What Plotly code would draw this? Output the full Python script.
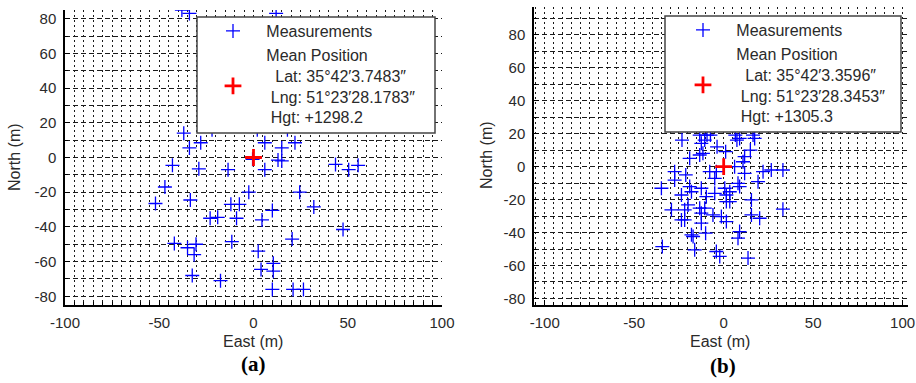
import plotly.graph_objects as go

W, H = 916, 383

# ---- data (a) ----
a_east = [-38, -34, 12, -37, -34, -28, -22, 2, 18, 6, 15, 22, 13, 15, -0.5, -43, -29, -13.5, 6,
          43.5, 50.5, 55.5, -47, -52, -33.5, -2.5, 24.5, -12, -7.5, 10, 32, -23, -19, -9, 4.5,
          47.5, -42, -35, -30.5, -31.5, -11.5, 20.5, 2.5, 10.5, 10.5, 4, -32.5, -17.5, 10, 21, 26.5]
a_north = [85, 83, 83, 14, 5.5, 8.5, 16, 16, 16, 8.5, 5.5, 8.5, -1.5, -2, -1, -4.5, -6.5, -7, -7,
           -4, -7, -4.5, -17, -26.5, -24.5, -20, -20, -27, -27, -30.5, -28.5, -35, -34.5, -35, -36,
           -41.5, -49.5, -52, -50, -56, -48.5, -47, -54, -61, -65.5, -64.5, -68, -71, -76, -76, -76]

# ---- data (b) ----
b_east = [-23.3, -13.4, -10.6, -9.3, -7.4, -12.5, -3.7, 1.1, 6.5, 7.4, 8.9, 16.4, 17.3, 14.9, 11.7,
          10.8, -19, -13.4, -11.6, 6.1, 11.7, -7.8, -4.1, -5, 22, 26.6, 33.1, -27.4, -27.4, -21.2,
          -34.8, -23.6, -19, -18, -12.5, -9.7, -5, 0.6, 1.5, 3.4, 8, 8.9, 19.2, 15.5, 1.5, 3.4,
          -29.2, -21.8, -19.9, -13.4, -10.6, -12.5, -6, -1.3, -23.6, -21.8, -12.5, 1.5, 15.5, 20.1,
          33.1, -18, -17.1, -10.1, 8.9, 8, -34.3, -16.2, -4.1, -2.2, 13.6]
b_north = [16.2, 19.2, 16.2, 19.2, 19.2, 14.2, 12.1, 9.1, 19.2, 16.2, 17.2, 19.2, 17.2, 10.1, 6.1,
           3.0, 5.1, 7.1, 8.1, 0, -4, -3, -3, -7.1, -3, -2, -2, -3, -8.1, -5,
           -13.1, -17.2, -12.1, -15.2, -13.1, -18.2, -16.2, -13.1, -17.2, -15.2, -10.1, -12.1, -9.1, -20.2, -21.2, -21.2,
           -26.2, -26.2, -23.2, -25.2, -25.2, -28.2, -29.3, -30.3, -32.3, -32.3, -34.3, -33.3, -29.3, -31.3,
           -25.8, -41.4, -42.4, -40.4, -39.4, -43.4, -48.5, -50.5, -51.5, -54.5, -55.5]

mean_a = ([0], [0])
mean_b = ([0], [0])

x_ticks = [-100, -50, 0, 50, 100]
x_ticktext = ["-100", "-50", "0", "50", "100"]
y_ticks = [-80, -60, -40, -20, 0, 20, 40, 60, 80]
y_ticktext = ["-80", "-60", "-40", "-20", "0", "20", "40", "60", "80"]

info_a = ["Lat: 35°42′3.7483″", "Lng: 51°23′28.1783″", "Hgt: +1298.2"]
info_b = ["Lat: 35°42′3.3596″", "Lng: 51°23′28.3453″", "Hgt: +1305.3"]

NB = "\u00a0"


def mean_label(info):
    return (NB * 3 + "Mean Position<br>" + NB * 5 + info[0] + "<br>" +
            NB * 4 + info[1] + "<br>" + NB * 4 + info[2])


fig = go.Figure()

blue_marker = dict(symbol="cross-thin", size=10, color="blue",
                   line=dict(color="blue", width=1.3))
red_marker = dict(symbol="cross-thin", size=12, color="red",
                  line=dict(color="red", width=2.8))

fig.add_trace(go.Scatter(x=a_east, y=a_north, mode="markers", marker=blue_marker,
                         name=NB * 3 + "Measurements", xaxis="x", yaxis="y", legend="legend"))
fig.add_trace(go.Scatter(x=mean_a[0], y=mean_a[1], mode="markers", marker=red_marker,
                         name=mean_label(info_a), xaxis="x", yaxis="y", legend="legend"))
fig.add_trace(go.Scatter(x=b_east, y=b_north, mode="markers", marker=blue_marker,
                         name=NB * 3 + "Measurements", xaxis="x2", yaxis="y2", legend="legend2"))
fig.add_trace(go.Scatter(x=mean_b[0], y=mean_b[1], mode="markers", marker=red_marker,
                         name=mean_label(info_b), xaxis="x2", yaxis="y2", legend="legend2"))

tickfont = dict(family="Liberation Sans, Arial, sans-serif", size=15, color="#2a2a2a")
gridcol = "#1a1a1a"


def xaxis_style(domain, rng, anchor):
    return dict(domain=domain, range=rng, anchor=anchor,
                tickmode="array", tickvals=x_ticks, ticktext=x_ticktext,
                showline=True, linecolor="black", linewidth=1.5, mirror=False,
                ticks="inside", ticklen=5, tickcolor="black", tickwidth=1,
                showgrid=True, gridcolor=gridcol, gridwidth=1, griddash="2px,3px",
                minor=dict(dtick=5, tick0=0, showgrid=True, gridcolor=gridcol, gridwidth=1,
                           griddash="2px,3px", ticks="inside", ticklen=3, tickcolor="black"),
                zeroline=False, tickfont=tickfont, ticklabelstandoff=3,
                automargin=False, fixedrange=True)


def yaxis_style(domain, rng, anchor):
    return dict(domain=domain, range=rng, anchor=anchor,
                tickmode="array", tickvals=y_ticks, ticktext=y_ticktext,
                showline=True, linecolor="black", linewidth=1.5, mirror=False,
                ticks="inside", ticklen=5, tickcolor="black", tickwidth=1,
                showgrid=True, gridcolor=gridcol, gridwidth=1, griddash="5px,3px",
                minor=dict(dtick=10, tick0=0, showgrid=True, gridcolor=gridcol, gridwidth=1,
                           griddash="5px,3px", ticks="inside", ticklen=3, tickcolor="black"),
                zeroline=False, tickfont=tickfont, ticklabelstandoff=4,
                automargin=False, fixedrange=True)


def px(x):
    return x / W


def py(y):
    return 1 - y / H


legend_font = dict(family="Liberation Sans, Arial, sans-serif", size=16, color="#2a2a2a")

fig.update_layout(
    width=W, height=H, autosize=False,
    margin=dict(l=0, r=0, t=0, b=0, pad=0, autoexpand=False),
    paper_bgcolor="white", plot_bgcolor="white",
    showlegend=True,
    xaxis=xaxis_style([px(65), px(442)], [-100, 100], "y"),
    yaxis=yaxis_style([py(305), py(10)], [-85, 85], "x"),
    xaxis2=xaxis_style([px(534), px(908)], [-106, 103], "y2"),
    yaxis2=yaxis_style([py(305), py(7)], [-84, 97], "x2"),
    legend=dict(x=px(213), y=py(14), xanchor="left", yanchor="top",
                bgcolor="rgba(0,0,0,0)", borderwidth=0, font=legend_font,
                tracegroupgap=0, itemclick=False, itemdoubleclick=False),
    legend2=dict(x=px(683), y=py(13), xanchor="left", yanchor="top",
                 bgcolor="rgba(0,0,0,0)", borderwidth=0, font=legend_font,
                 tracegroupgap=0, itemclick=False, itemdoubleclick=False),
)

# legend boxes (white, hiding points beneath, like the original)
for (x0, y0, x1, y1) in [(197, 17, 435, 133), (665, 16, 901, 132)]:
    fig.add_shape(type="rect", xref="paper", yref="paper",
                  x0=px(x0), x1=px(x1), y0=py(y1), y1=py(y0),
                  fillcolor="white", line=dict(color="#444", width=1.5), layer="above")

label_font = dict(family="Liberation Sans, Arial, sans-serif", size=16, color="#2a2a2a")
panel_font = dict(family="Liberation Serif, Times New Roman, serif", size=21, color="black")

annos = [
    dict(text="East (m)", x=px(253), y=py(341), font=label_font),
    dict(text="East (m)", x=px(720), y=py(341), font=label_font),
    dict(text="North (m)", x=px(15), y=py(157), font=label_font, textangle=-90),
    dict(text="North (m)", x=px(486), y=py(155), font=label_font, textangle=-90),
    dict(text="<b>(a)</b>", x=px(253), y=py(364), font=panel_font),
    dict(text="<b>(b)</b>", x=px(723), y=py(366), font=panel_font),
]
for a in annos:
    fig.add_annotation(xref="paper", yref="paper", showarrow=False,
                       xanchor="center", yanchor="middle", **a)

fig.write_html("out.html", config={"displayModeBar": False},
               post_script="document.body.style.margin='0';document.body.style.overflow='hidden';")
